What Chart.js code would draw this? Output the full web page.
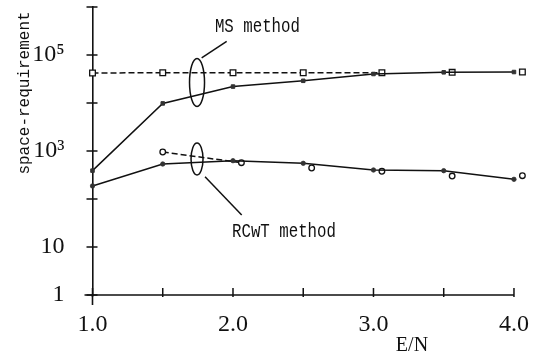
<!DOCTYPE html>
<html><head><meta charset="utf-8">
<script src="https://cdn.jsdelivr.net/npm/chart.js@4/dist/chart.umd.min.js"></script>
<style>html,body{margin:0;padding:0;background:#fff}</style>
</head><body>
<canvas id="c" width="540" height="353"></canvas>
<script>
// ---- data ----
const eOverN = [1.0, 1.5, 2.0, 2.5, 3.0, 3.5, 4.0];
const msSolid = [390, 9800, 22000, 29000, 40200, 43600, 44200];          // filled squares
const msOpenX = [1.0, 1.5, 2.0, 2.5, 3.06, 3.56, 4.06];                    // open squares (drawn offset right)
const msOpen = [42200, 42700, 42700, 42700, 42700, 43600, 44200];
const rcwtSolid = [187, 536, 628, 554, 402, 389, 257];                    // filled circles
const rcwtOpenX = [1.5, 2.06, 2.56, 3.06, 3.56, 4.06];                     // open circles (drawn offset right)
const rcwtOpen = [953, 570, 442, 378, 301, 306];
const xTickValues = [1.0, 1.5, 2.0, 2.5, 3.0, 3.5, 4.0];
const xTickLabels = ['1.0', '', '2.0', '', '3.0', '', '4.0'];
const yTickValues = [1, 10, 100, 1000, 10000, 100000, 1000000];
const yTickLabels = ['1', '10', '', '10³', '', '10⁵', ''];
const seriesNames = ['MS method', 'RCwT method'];
const xTitle = 'E/N';
const yTitle = 'space-requirement';
// annotation anchors in data units: [label x, label log10 y], ellipse centre, leader start/end
const msNote = [2.174, 5.615, 1.744, 4.427, 1.777, 4.94, 1.955, 5.285];
const rcwtNote = [2.363, 1.354, 1.744, 2.833, 1.801, 2.465, 2.062, 1.667];

const toXY = (xs, ys) => xs.map((x, i) => ({x, y: ys[i]}));
const INK = '#111';

const notes = {
  id: 'notes',
  afterDatasetsDraw(chart) {
    const {ctx, scales: {x, y}, chartArea: a} = chart;
    ctx.save();
    ctx.strokeStyle = INK; ctx.fillStyle = INK;
    // x axis line (ends at the last tick), tick marks crossing the axes, and axis extensions
    ctx.lineWidth = 1.6;
    ctx.beginPath();
    ctx.moveTo(a.left - 8, a.bottom); ctx.lineTo(x.getPixelForValue(xTickValues[xTickValues.length - 1]), a.bottom);
    ctx.moveTo(a.left, a.bottom); ctx.lineTo(a.left, a.bottom + 10);
    ctx.stroke();
    ctx.lineWidth = 1.5;
    ctx.beginPath();
    x.ticks.forEach(t => { const p = x.getPixelForValue(t.value); ctx.moveTo(p, a.bottom - 7); ctx.lineTo(p, a.bottom + 2); });
    y.ticks.forEach(t => { const p = y.getPixelForValue(t.value); ctx.moveTo(a.left - 6, p); ctx.lineTo(a.left + 5, p); });
    ctx.stroke();

    const drawNote = (n, text, rx, ry) => {
      ctx.lineWidth = 1.5;
      ctx.beginPath();
      ctx.ellipse(x.getPixelForValue(n[2]), y.getPixelForValue(Math.pow(10, n[3])), rx, ry, 0, 0, Math.PI * 2);
      ctx.stroke();
      ctx.beginPath();
      ctx.moveTo(x.getPixelForValue(n[4]), y.getPixelForValue(Math.pow(10, n[5])));
      ctx.lineTo(x.getPixelForValue(n[6]), y.getPixelForValue(Math.pow(10, n[7])));
      ctx.stroke();
      ctx.save();
      ctx.translate(x.getPixelForValue(n[0]), y.getPixelForValue(Math.pow(10, n[1])));
      ctx.scale(0.75, 1);
      ctx.font = '21px "Liberation Mono"';
      ctx.textAlign = 'center'; ctx.textBaseline = 'middle';
      ctx.fillText(text, 0, 1);
      ctx.restore();
    };
    drawNote(msNote, seriesNames[0], 7.5, 24);
    drawNote(rcwtNote, seriesNames[1], 6, 16);

    // axis titles
    ctx.font = '20px "Liberation Serif"';
    ctx.textAlign = 'center'; ctx.textBaseline = 'alphabetic';
    ctx.fillText(xTitle, x.getPixelForValue(3.274), a.bottom + 56);
    ctx.save();
    ctx.translate(29, a.top + 86);
    ctx.rotate(-Math.PI / 2);
    ctx.font = '16px "Liberation Mono"';
    ctx.fillText(yTitle, 0, 0);
    ctx.restore();
    ctx.restore();
  }
};

new Chart(document.getElementById('c'), {
  type: 'line',
  data: {
    datasets: [
      { label: seriesNames[0] + ' (open)', data: toXY(msOpenX, msOpen), borderColor: INK, borderWidth: 1.5,
        borderDash: [6, 3], pointStyle: 'rect', pointRadius: 4, pointBackgroundColor: '#fff',
        pointBorderColor: INK, pointBorderWidth: 1.3, order: 2, clip: false,
        segment: { borderColor: c => c.p0DataIndex >= 4 ? 'rgba(0,0,0,0)' : INK } },
      { label: seriesNames[0], data: toXY(eOverN, msSolid), borderColor: INK, borderWidth: 1.5,
        pointStyle: 'rect', pointRadius: 2.5, pointBackgroundColor: '#333', pointBorderColor: '#333',
        pointBorderWidth: 1, order: 1, clip: false },
      { label: seriesNames[1] + ' (open)', data: toXY(rcwtOpenX, rcwtOpen), borderColor: INK, borderWidth: 1.5,
        borderDash: [6, 3], pointStyle: 'circle', pointRadius: 2.8, pointBackgroundColor: '#fff',
        pointBorderColor: INK, pointBorderWidth: 1.3, order: 2, clip: false,
        segment: { borderColor: c => c.p0DataIndex >= 1 ? 'rgba(0,0,0,0)' : INK } },
      { label: seriesNames[1], data: toXY(eOverN, rcwtSolid), borderColor: INK, borderWidth: 1.5,
        pointStyle: 'circle', pointRadius: 2.2, pointBackgroundColor: '#333', pointBorderColor: '#333',
        pointBorderWidth: 0.8, order: 1, clip: false }
    ]
  },
  options: {
    responsive: false, animation: false, devicePixelRatio: 1,
    layout: { padding: { top: 7, right: 17.6, left: 0, bottom: 0 } },
    plugins: { legend: { display: false }, tooltip: { enabled: false } },
    scales: {
      x: {
        type: 'linear', min: 1, max: 4.06,
        afterBuildTicks: s => { s.ticks = xTickValues.map(v => ({value: v})); },
        afterFit: s => { s.height = 58; s.paddingLeft = 0; s.paddingRight = 0; },
        grid: { display: true, drawOnChartArea: false, drawTicks: false },
        border: { display: false },
        ticks: { autoSkip: false, maxRotation: 0, padding: 15, color: INK,
          font: { family: '"Liberation Serif", "DejaVu Serif"', size: 24 },
          callback: (v, i) => xTickLabels[i] }
      },
      y: {
        type: 'logarithmic', min: 1, max: 1000000,
        afterBuildTicks: s => { s.ticks = yTickValues.map(v => ({value: v})); },
        afterFit: s => { s.width = 92.5; s.paddingTop = 0; s.paddingBottom = 0; },
        grid: { display: true, drawOnChartArea: false, drawTicks: false },
        border: { display: true, color: INK, width: 1.6 },
        ticks: { autoSkip: false, padding: 28, color: INK,
          font: { family: '"Liberation Serif", "DejaVu Serif"', size: 24 },
          callback: (v, i) => yTickLabels[i] }
      }
    }
  },
  plugins: [notes]
});
</script>
</body></html>
